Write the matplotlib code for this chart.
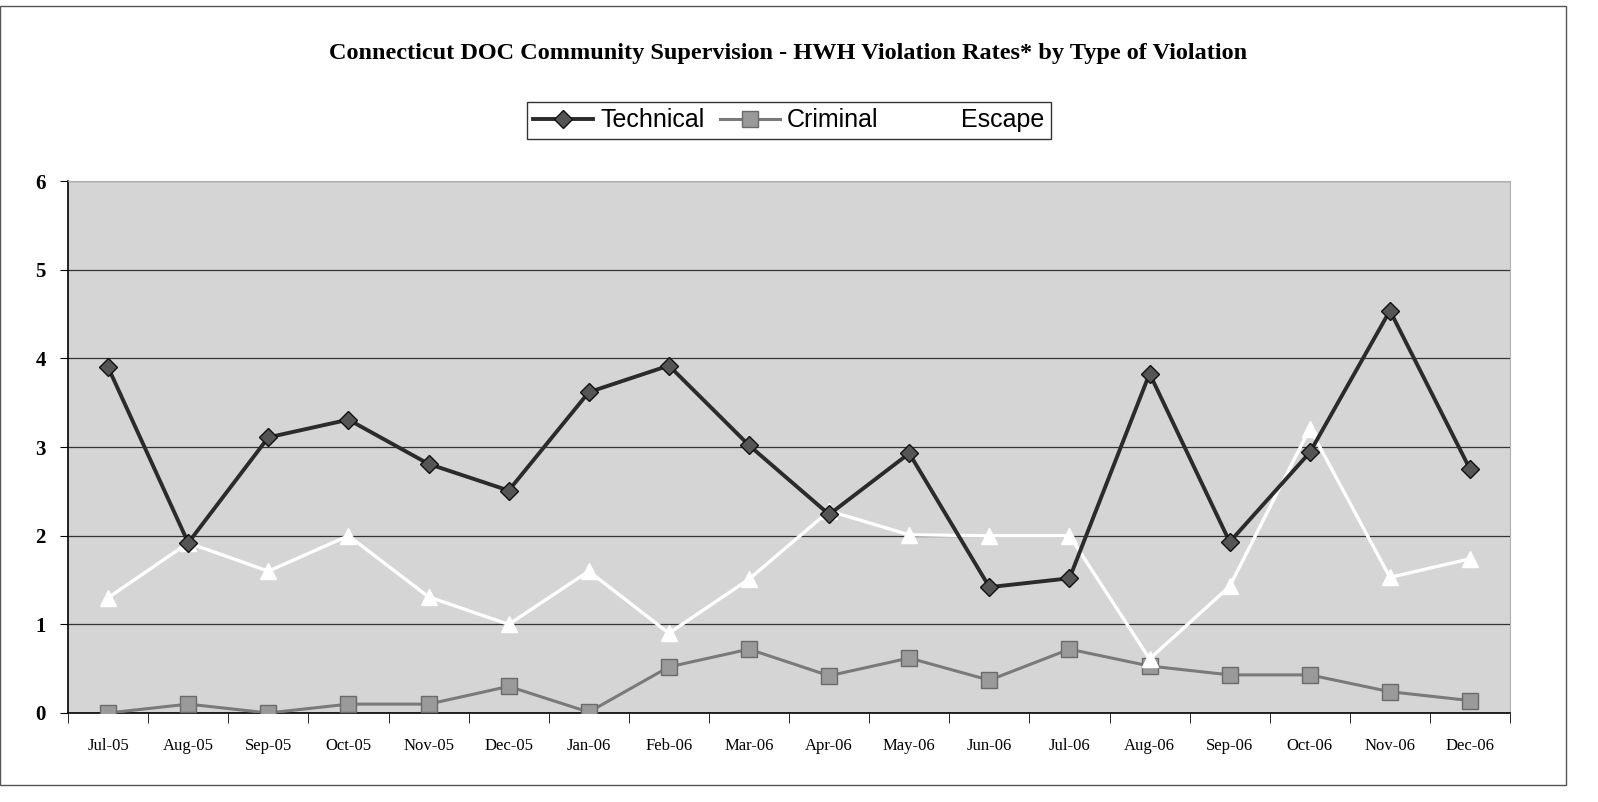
import numpy as np
import matplotlib.pyplot as plt
from matplotlib.patches import Rectangle

# Data
months = ["Jul-05", "Aug-05", "Sep-05", "Oct-05", "Nov-05", "Dec-05",
          "Jan-06", "Feb-06", "Mar-06", "Apr-06", "May-06", "Jun-06",
          "Jul-06", "Aug-06", "Sep-06", "Oct-06", "Nov-06", "Dec-06"]
technical = [3.90, 1.92, 3.11, 3.31, 2.81, 2.51, 3.62, 3.92, 3.02,
             2.24, 2.93, 1.42, 1.52, 3.83, 1.93, 2.94, 4.54, 2.75]
criminal = [0.0, 0.10, 0.0, 0.10, 0.10, 0.30, 0.01, 0.52, 0.72,
            0.42, 0.62, 0.37, 0.72, 0.53, 0.43, 0.43, 0.24, 0.14]
escape = [1.30, 1.92, 1.60, 2.00, 1.31, 1.00, 1.60, 0.90, 1.51,
          2.28, 2.01, 2.00, 2.00, 0.61, 1.43, 3.21, 1.53, 1.74]

fig = plt.figure(figsize=(15.98, 8.02), dpi=100)
fig.patch.set_facecolor("white")

# outer chart border
fig.patches.append(Rectangle((0.0, 0.021), 0.980, 0.972, transform=fig.transFigure,
                             fill=False, edgecolor="#555555", linewidth=1.0))

ax = fig.add_axes([0.0426, 0.111, 0.9024, 0.663])
ax.set_facecolor("#d5d5d5")

x = np.arange(len(months))
ax.plot(x, technical, color="#2b2b2b", linewidth=2.8, marker="D", markersize=9,
        markerfacecolor="#555555", markeredgecolor="#111111", label="Technical", zorder=4)
ax.plot(x, criminal, color="#7a7a7a", linewidth=2.2, marker="s", markersize=11,
        markerfacecolor="#9a9a9a", markeredgecolor="#6a6a6a", label="Criminal", zorder=3)
ax.plot(x, escape, color="white", linewidth=2.4, marker="^", markersize=12,
        markerfacecolor="white", markeredgecolor="white", label="Escape", zorder=3)

ax.set_xlim(-0.5, len(months) - 0.5)
ax.set_ylim(0, 6)
ax.set_yticks(range(0, 7))
ax.yaxis.grid(True, color="#333333", linewidth=0.9)
ax.set_axisbelow(True)

ax.set_xticks(x)
ax.set_xticklabels(months, fontfamily="Liberation Serif", fontsize=12)
ax.set_xticks(np.arange(-0.5, len(months), 1), minor=True)
ax.tick_params(axis="x", which="major", length=0, pad=18)
ax.tick_params(axis="x", which="minor", length=7, color="black", direction="out")
ax.tick_params(axis="y", length=6, direction="out", pad=10)
for lbl in ax.get_yticklabels():
    lbl.set_fontfamily("Liberation Serif")
    lbl.set_fontweight("bold")
    lbl.set_fontsize(15)

for side in ["top", "right"]:
    ax.spines[side].set_color("#b0b0b0")
    ax.spines[side].set_linewidth(0.8)
ax.spines["left"].set_color("black")
ax.spines["bottom"].set_color("black")
ax.spines["left"].set_linewidth(1.2)
ax.spines["bottom"].set_linewidth(1.2)

fig.text(0.493, 0.933, "Connecticut DOC Community Supervision - HWH Violation Rates* by Type of Violation",
         ha="center", va="center", fontfamily="Liberation Serif", fontweight="bold", fontsize=17.5)

leg = fig.legend(loc="center", bbox_to_anchor=(0.4935, 0.850), ncol=3, frameon=True,
                 prop={"family": "Liberation Sans", "size": 18}, fancybox=False,
                 edgecolor="black", handlelength=2.4, columnspacing=0.6, handletextpad=0.3,
                 borderpad=0.25)
leg.get_frame().set_linewidth(1.0)

fig.savefig("out.png", dpi=100, facecolor="white")
